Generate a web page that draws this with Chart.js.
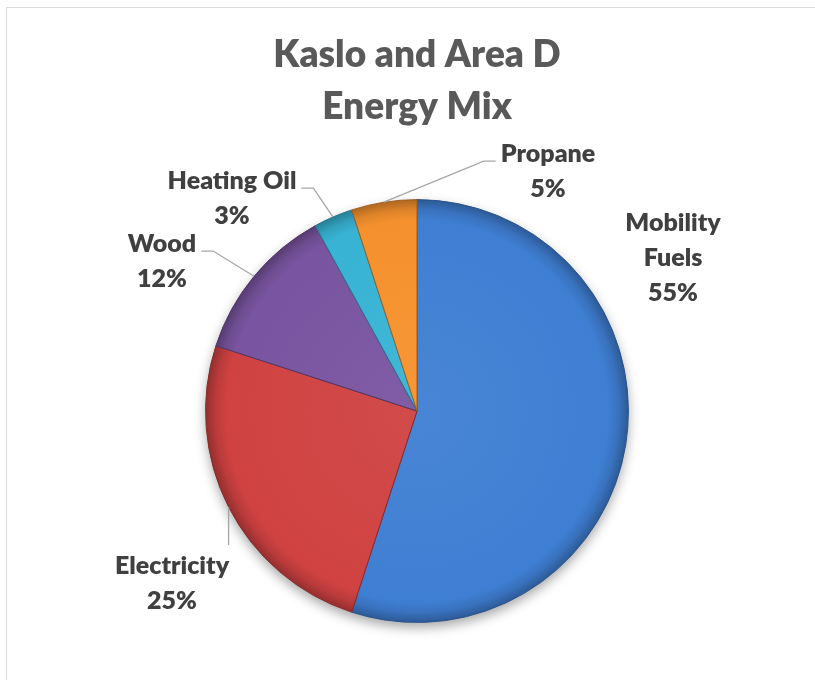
<!DOCTYPE html>
<html>
<head>
<meta charset="utf-8">
<title>Kaslo and Area D Energy Mix</title>
<script src="https://cdn.jsdelivr.net/npm/chart.js@4.4.1/dist/chart.umd.min.js"></script>
<style>
  html, body { margin: 0; padding: 0; background: #fff; overflow: hidden; }
  #wrap { position: relative; width: 815px; height: 680px; overflow: hidden; }
  #frame { position: absolute; left: 6px; top: 7px; width: 900px; height: 800px;
           border-left: 1.5px solid #d9d9d9; border-top: 1.5px solid #d9d9d9; }
  canvas { position: absolute; left: 0; top: 0; }
</style>
</head>
<body>
<div id="wrap">
  <div id="frame"></div>
  <canvas id="mix" width="815" height="680"></canvas>
</div>
<script>
"use strict";

// Data
const categories = ['Mobility Fuels', 'Electricity', 'Wood', 'Heating Oil', 'Propane'];
const shares = [55, 25, 12, 3, 5];
const labelLines = [['Mobility', 'Fuels'], ['Electricity'], ['Wood'], ['Heating Oil'], ['Propane']];
const sliceColors = ['#3f7fd3', '#d04242', '#7954a0', '#38b3d4', '#f5912d'];

// Label placement relative to the pie centre, and which side of the label the leader line hits
const labelSpots = [[256, -153], [-245, 172], [-255, -150], [-185, -213], [131, -240]];
const leaderSide = [null, 'top', 'right', 'right', 'left'];

function shade(hex, amt) {
    const n = parseInt(hex.slice(1), 16);
    const f = c => Math.max(0, Math.min(255, Math.round(amt < 0 ? c * (1 + amt) : c + (255 - c) * amt)));
    return 'rgb(' + f(n >> 16) + ',' + f((n >> 8) & 255) + ',' + f(n & 255) + ')';
}

// Bevel-ish radial fill, darker towards the rim
function sliceFill(context) {
    const chart = context.chart;
    const area = chart.chartArea;
    const base = sliceColors[context.dataIndex];
    if (!area) return base;
    const cx = (area.left + area.right) / 2;
    const cy = (area.top + area.bottom) / 2;
    const r = Math.min(area.width, area.height) / 2;
    const g = chart.ctx.createRadialGradient(cx, cy, 0, cx, cy, r);
    g.addColorStop(0, shade(base, 0.05));
    g.addColorStop(0.9, base);
    g.addColorStop(0.95, shade(base, -0.1));
    g.addColorStop(1, shade(base, -0.3));
    return g;
}

// Soft shadow under the pie
const pieShadow = {
    id: 'pieShadow',
    beforeDatasetsDraw(chart) {
        const arc = chart.getDatasetMeta(0).data[0];
        if (!arc) return;
        const ctx = chart.ctx;
        ctx.save();
        ctx.shadowColor = 'rgba(0,0,0,0.35)';
        ctx.shadowBlur = 12;
        ctx.shadowOffsetY = 5;
        ctx.fillStyle = '#fff';
        ctx.beginPath();
        ctx.arc(arc.x, arc.y, arc.outerRadius, 0, Math.PI * 2);
        ctx.fill();
        ctx.restore();
    }
};

// Category + percent labels with leader lines
const dataLabels = {
    id: 'dataLabels',
    afterDatasetsDraw(chart) {
        const ctx = chart.ctx;
        const meta = chart.getDatasetMeta(0);
        const total = shares.reduce((a, b) => a + b, 0);
        const lh = 35;
        ctx.save();
        ctx.font = '800 25px Lato';
        ctx.fillStyle = '#404040';
        ctx.textAlign = 'center';
        ctx.textBaseline = 'middle';
        meta.data.forEach((arc, i) => {
            const lines = labelLines[i].concat(Math.round(shares[i] / total * 100) + '%');
            const lx = arc.x + labelSpots[i][0];
            const ly = arc.y + labelSpots[i][1];
            const top = ly - lh * lines.length / 2;
            lines.forEach((t, k) => ctx.fillText(t, lx, top + lh * (k + 0.5)));

            const side = leaderSide[i];
            if (!side) return;
            const mid = (arc.startAngle + arc.endAngle) / 2;
            const ex = arc.x + Math.cos(mid) * arc.outerRadius;
            const ey = arc.y + Math.sin(mid) * arc.outerRadius;
            const hw = Math.max(...lines.map(t => ctx.measureText(t).width)) / 2;
            ctx.beginPath();
            ctx.moveTo(ex, ey);
            if (side === 'top') {
                ctx.lineTo(ex, top - 3);
            } else {
                const dir = side === 'right' ? 1 : -1;
                const endX = lx + dir * (hw + 5);
                const endY = ly - 10;
                ctx.lineTo(endX + dir * 12, endY);
                ctx.lineTo(endX, endY);
            }
            ctx.strokeStyle = '#a6a6a6';
            ctx.lineWidth = 1.3;
            ctx.stroke();
        });
        ctx.restore();
    }
};

new Chart(document.getElementById('mix'), {
    type: 'pie',
    data: {
        labels: categories,
        datasets: [{
            data: shares,
            backgroundColor: sliceFill,
            borderColor: ctx => shade(sliceColors[ctx.dataIndex], -0.35),
            borderWidth: 1
        }]
    },
    options: {
        responsive: false,
        animation: false,
        layout: { padding: { left: 205, right: 186, top: 30, bottom: 57 } },
        plugins: {
            legend: { display: false },
            tooltip: { enabled: false },
            title: {
                display: true,
                text: ['Kaslo and Area D', 'Energy Mix'],
                color: '#595959',
                font: { family: 'Lato', size: 37, weight: 800, lineHeight: 1.38 },
                padding: { top: 0, bottom: 67 }
            }
        }
    },
    plugins: [pieShadow, dataLabels]
});
</script>
</body>
</html>
